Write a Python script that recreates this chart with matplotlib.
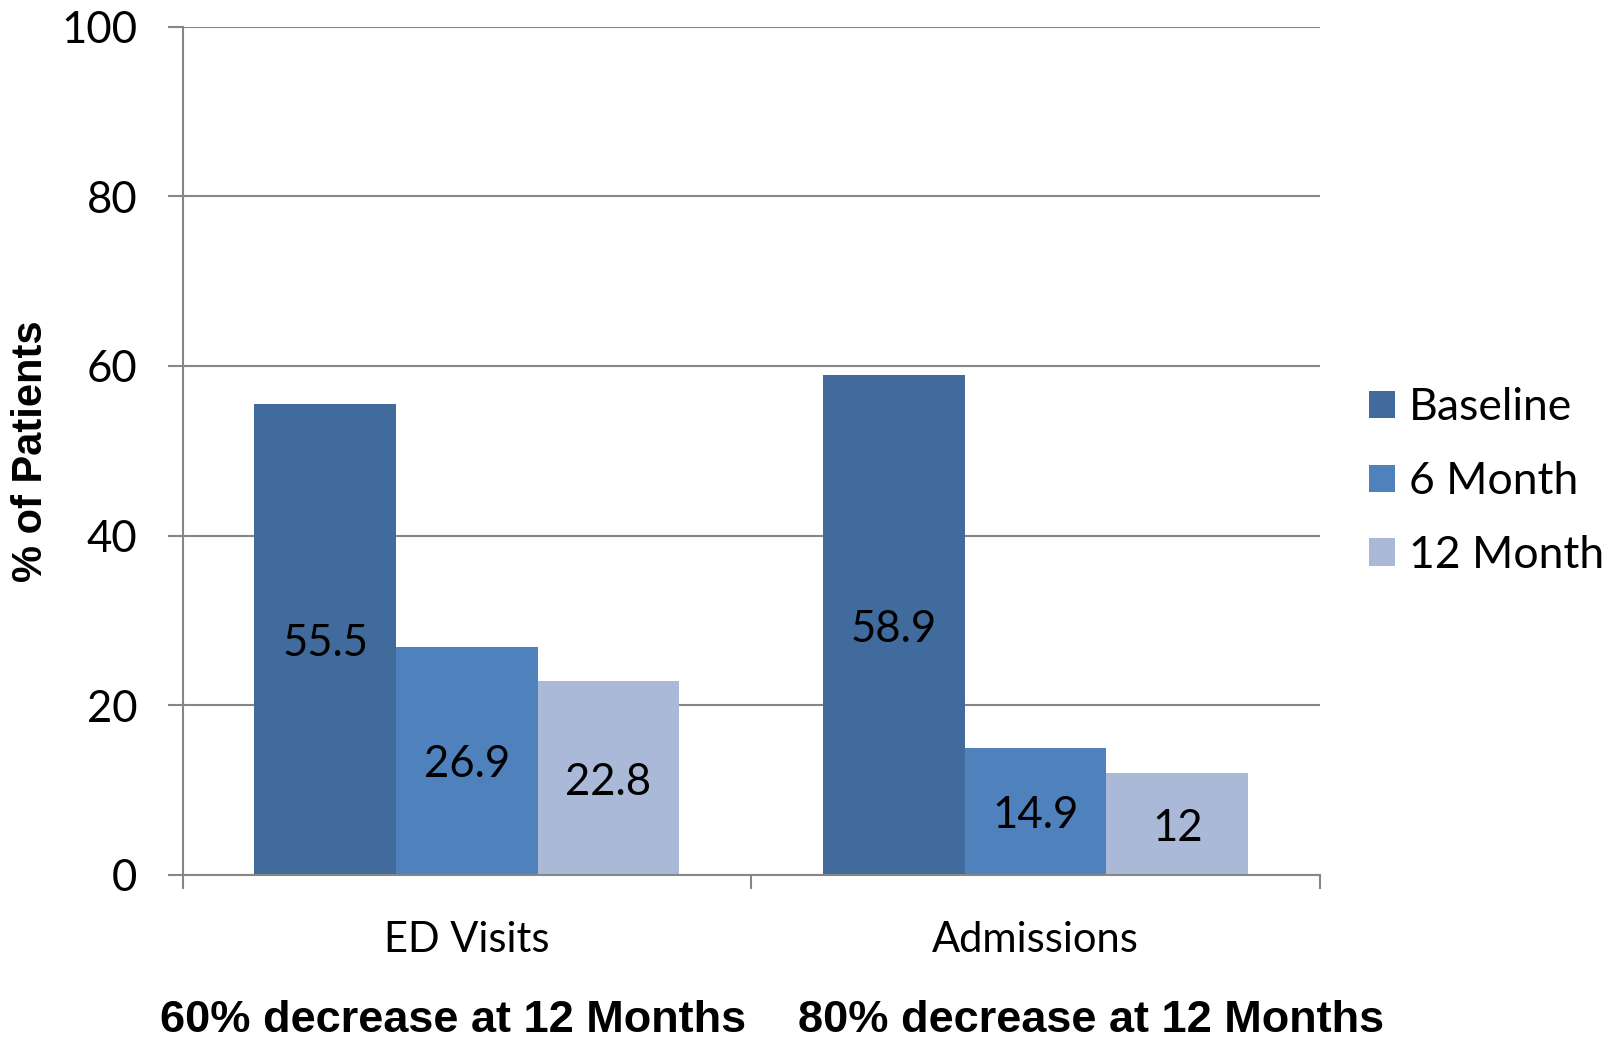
import matplotlib
matplotlib.use("Agg")
import matplotlib.pyplot as plt
import numpy as np
from matplotlib.patches import Patch

# data
categories = ["ED Visits", "Admissions"]
series_names = ["Baseline", "6 Month", "12 Month"]
baseline = [55.5, 58.9]
month6 = [26.9, 14.9]
month12 = [22.8, 12]
value_labels = [["55.5", "58.9"], ["26.9", "14.9"], ["22.8", "12"]]
notes = ["60% decrease at 12 Months", "80% decrease at 12 Months"]
yticks = [0, 20, 40, 60, 80, 100]

colors = ["#416B9C", "#4F81BD", "#AAB9D7"]
grid_col = "#868686"
num_font = "Lato"

fig = plt.figure(figsize=(16.08, 10.39), dpi=100)
ax = fig.add_axes([0.1135, 0.1581, 0.7074, 0.8162])

x = np.arange(len(categories))
width = 0.249
for i, vals in enumerate([baseline, month6, month12]):
    pos = x + (i - 1) * width
    ax.bar(pos, vals, width, color=colors[i], zorder=3)
    for p, v, lab in zip(pos, vals, value_labels[i]):
        ax.text(p, v / 2 - 0.5, lab, ha="center", va="center", fontsize=31.5,
                family=num_font, color="black", zorder=4)

ax.set_xlim(-0.5, 1.5)
ax.set_ylim(0, 100)
ax.set_yticks(yticks)
ax.set_yticklabels([str(t) for t in yticks], family=num_font, fontsize=31.5)
ax.yaxis.grid(True, color=grid_col, linewidth=1.5, zorder=0)
ax.tick_params(axis="y", direction="out", length=10.5, width=1.5, color=grid_col, pad=22)

# category boundary ticks on the x axis
ax.set_xticks([-0.5, 0.5, 1.5])
ax.set_xticklabels([])
ax.tick_params(axis="x", direction="out", length=10, width=1.5, color=grid_col)
for xi, cat in zip(x, categories):
    ax.text(xi, -5.5, cat, ha="center", va="top", fontsize=30, family=num_font,
            transform=ax.transData)

for side in ["top", "right"]:
    ax.spines[side].set_visible(False)
for side in ["left", "bottom"]:
    ax.spines[side].set_color(grid_col)
    ax.spines[side].set_linewidth(1.5)
ax.spines["bottom"].set_zorder(5)

fig.text(0.0195, 0.566, "% of Patients", rotation=90, ha="center", va="center",
         fontsize=30, fontweight="bold", family="Liberation Sans")

# notes under each category
for xn, note in zip([-0.024, 1.098], notes):
    ax.text(xn, -17.2, note, ha="center", va="center", fontsize=32.5,
            fontweight="bold", family="Liberation Sans")

handles = [Patch(facecolor=c, edgecolor="none") for c in colors]
fig.legend(handles, series_names, loc="center left", bbox_to_anchor=(0.8374, 0.5365),
           frameon=False, prop={"family": num_font, "size": 32}, borderpad=0,
           handlelength=0.58, handleheight=0.58, handletextpad=0.32, labelspacing=0.74)

fig.savefig("out.png", dpi=100)
